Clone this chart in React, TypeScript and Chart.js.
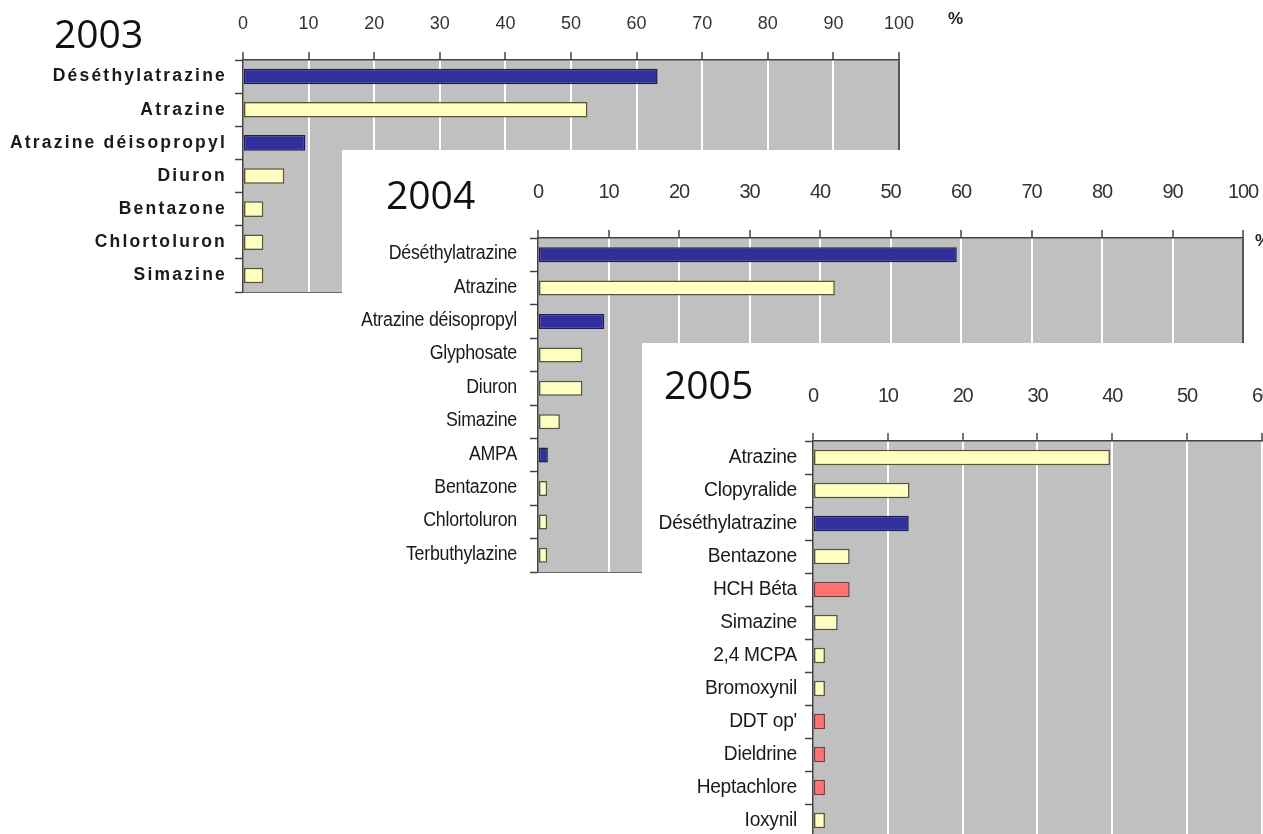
import React, { useEffect, useRef } from 'react';
import { Chart, registerables } from 'chart.js';

Chart.register(...registerables);

// ---------- data ----------
const xTickValues = [0, 10, 20, 30, 40, 50, 60, 70, 80, 90, 100];

const categories2003 = ['Déséthylatrazine', 'Atrazine', 'Atrazine déisopropyl', 'Diuron', 'Bentazone', 'Chlortoluron', 'Simazine'];
const values2003 = [63.2, 52.5, 9.5, 6.3, 3.1, 3.1, 3.1];
const groups2003 = ['metabolite', 'herbicide', 'metabolite', 'herbicide', 'herbicide', 'herbicide', 'herbicide'];

const categories2004 = ['Déséthylatrazine', 'Atrazine', 'Atrazine déisopropyl', 'Glyphosate', 'Diuron', 'Simazine', 'AMPA', 'Bentazone', 'Chlortoluron', 'Terbuthylazine'];
const values2004 = [59.4, 42.1, 9.4, 6.3, 6.3, 3.1, 1.4, 1.3, 1.3, 1.3];
const groups2004 = ['metabolite', 'herbicide', 'metabolite', 'herbicide', 'herbicide', 'herbicide', 'metabolite', 'herbicide', 'herbicide', 'herbicide'];

const categories2005 = ['Atrazine', 'Clopyralide', 'Déséthylatrazine', 'Bentazone', 'HCH Béta', 'Simazine', '2,4 MCPA', 'Bromoxynil', "DDT op'", 'Dieldrine', 'Heptachlore', 'Ioxynil'];
const values2005 = [39.7, 12.9, 12.8, 4.9, 4.9, 3.3, 1.6, 1.6, 1.6, 1.6, 1.6, 1.6];
const groups2005 = ['herbicide', 'herbicide', 'metabolite', 'herbicide', 'organochlorine', 'herbicide', 'herbicide', 'herbicide', 'organochlorine', 'organochlorine', 'organochlorine', 'herbicide'];

const years = ['2003', '2004', '2005'];

// ---------- styles ----------
const groupFill: Record<string, string> = {
  metabolite: '#30309C',
  herbicide: '#FFFFC2',
  organochlorine: '#FF7272',
};
const groupBorder: Record<string, string> = {
  metabolite: '#1B1B55',
  herbicide: '#55553A',
  organochlorine: '#704040',
};

const SANS = "'Liberation Sans', Arial, sans-serif";
const TITLE = "'Open Sans', 'DejaVu Sans', sans-serif";

const bgPlugin = {
  id: 'panelBg',
  beforeDraw(chart: any, _args: any, opts: any) {
    const { ctx, chartArea: a, width, height } = chart;
    ctx.save();
    if (opts && opts.white) {
      ctx.fillStyle = '#ffffff';
      ctx.fillRect(0, 0, width, height);
    }
    ctx.fillStyle = '#C0C0C0';
    ctx.fillRect(a.left, a.top, a.right - a.left, a.bottom - a.top);
    ctx.restore();
  },
  afterDraw(chart: any) {
    const { ctx, chartArea: a } = chart;
    ctx.save();
    ctx.strokeStyle = '#666';
    ctx.lineWidth = 1;
    ctx.beginPath();
    ctx.moveTo(a.left, a.bottom + 0.5);
    ctx.lineTo(a.right, a.bottom + 0.5);
    ctx.stroke();
    ctx.restore();
  },
};

interface Panel {
  left: number;
  top: number;
  width: number;
  height: number;
  area: { left: number; top: number; right: number; bottom: number };
  cats: string[];
  vals: number[];
  groups: string[];
  tickFont: any;
  tickPad: number;
  tickSpacing: number;
  labelFont: any;
  labelPad: number;
  labelSpacing: number;
  labelShift: number;
  labelSqueeze: number;
  barPct: number;
  white: boolean;
}

function BarPanel({ p }: { p: Panel }) {
  const ref = useRef<HTMLCanvasElement | null>(null);
  useEffect(() => {
    if (!ref.current) return;
    const a = p.area;
    const chart = new Chart(ref.current, {
      type: 'bar',
      data: {
        labels: p.cats,
        datasets: [
          {
            data: p.vals,
            backgroundColor: p.groups.map((g) => groupFill[g]),
            borderColor: p.groups.map((g) => groupBorder[g]),
            borderWidth: 1.5,
            borderSkipped: false,
            barPercentage: p.barPct,
            categoryPercentage: 1,
          },
        ],
      },
      options: {
        indexAxis: 'y',
        responsive: false,
        animation: false,
        events: [],
        layout: {
          autoPadding: false,
          padding: { left: 0, top: 0, right: p.width - a.right, bottom: p.height - a.bottom },
        },
        plugins: {
          legend: { display: false },
          tooltip: { enabled: false },
          panelBg: { white: p.white },
        } as any,
        scales: {
          x: {
            type: 'linear',
            position: 'top',
            min: 0,
            max: 100,
            afterBuildTicks: (s: any) => {
              s.ticks = xTickValues.map((v) => ({ value: v }));
            },
            afterFit: (s: any) => {
              s.height = a.top;
              s.paddingLeft = 0;
              s.paddingRight = 0;
              if (!s._patchedLabels) {
                const orig = s.drawLabels.bind(s);
                s.drawLabels = (ca: any) => {
                  const c = s.ctx;
                  c.save();
                  (c as any).letterSpacing = p.tickSpacing + 'px';
                  orig(ca);
                  c.restore();
                };
                s._patchedLabels = true;
              }
            },
            ticks: {
              font: p.tickFont,
              color: '#333',
              padding: p.tickPad,
              maxRotation: 0,
              autoSkip: false,
            },
            grid: {
              color: (c: any) => {
                const v = c.tick ? c.tick.value : -1;
                if (v === 0) return 'rgba(0,0,0,0)';
                if (v === 100) return '#555';
                return '#ffffff';
              },
              lineWidth: 2,
              tickColor: '#444',
              tickWidth: 1.5,
              tickLength: 8,
            },
            border: { color: '#444', width: 1.5 },
          },
          y: {
            type: 'category',
            position: 'left',
            afterFit: (s: any) => {
              s.width = a.left;
              s.paddingTop = 0;
              s.paddingBottom = 0;
              if (!s._patchedLabels) {
                const orig = s.drawLabels.bind(s);
                s.drawLabels = (ca: any) => {
                  const c = s.ctx;
                  const x0 = s.right - 8 - p.labelPad;
                  c.save();
                  (c as any).letterSpacing = p.labelSpacing + 'px';
                  c.translate(x0, p.labelShift);
                  c.scale(p.labelSqueeze, 1);
                  c.translate(-x0, 0);
                  orig(ca);
                  c.restore();
                };
                s._patchedLabels = true;
              }
            },
            ticks: {
              font: p.labelFont,
              color: '#1a1a1a',
              padding: p.labelPad,
              autoSkip: false,
            },
            grid: {
              drawOnChartArea: false,
              offset: true,
              tickLength: 8,
              tickColor: '#444',
              tickWidth: 1.5,
            },
            border: { color: '#444', width: 1.5 },
          },
        },
      } as any,
      plugins: [bgPlugin as any],
    });
    return () => chart.destroy();
  }, [p]);
  return (
    <canvas
      ref={ref}
      width={p.width}
      height={p.height}
      style={{ position: 'absolute', left: p.left, top: p.top, width: p.width, height: p.height, display: 'block' }}
    />
  );
}

const panel2003: Panel = {
  left: 0, top: 0, width: 960, height: 310,
  area: { left: 243, top: 60, right: 899, bottom: 292 },
  cats: categories2003, vals: values2003, groups: groups2003,
  tickFont: { family: SANS, size: 18 }, tickPad: 17, tickSpacing: 0,
  labelFont: { family: SANS, size: 17.5, weight: 'bold' }, labelPad: 8, labelSpacing: 2.2, labelShift: 0, labelSqueeze: 1,
  barPct: 0.47, white: false,
};

const panel2004: Panel = {
  left: 342, top: 150, width: 921, height: 684,
  area: { left: 196, top: 88, right: 901, bottom: 422 },
  cats: categories2004, vals: values2004, groups: groups2004,
  tickFont: { family: SANS, size: 20 }, tickPad: 26, tickSpacing: -1.2,
  labelFont: { family: SANS, size: 20 }, labelPad: 13, labelSpacing: -0.3, labelShift: -1, labelSqueeze: 0.89,
  barPct: 0.45, white: true,
};

const panel2005: Panel = {
  left: 642, top: 343, width: 940, height: 500,
  area: { left: 171, top: 98, right: 919, bottom: 494 },
  cats: categories2005, vals: values2005, groups: groups2005,
  tickFont: { family: SANS, size: 20 }, tickPad: 25, tickSpacing: -1.2,
  labelFont: { family: SANS, size: 20 }, labelPad: 8, labelSpacing: -0.3, labelShift: 0, labelSqueeze: 0.96,
  barPct: 0.47, white: true,
};

const titleStyle = (left: number, top: number): React.CSSProperties => ({
  position: 'absolute', left, top, fontFamily: TITLE, fontSize: 39, lineHeight: '39px', color: '#111', whiteSpace: 'nowrap',
});
const pctStyle = (left: number, top: number): React.CSSProperties => ({
  position: 'absolute', left, top, fontFamily: SANS, fontSize: 17, fontWeight: 'bold', lineHeight: '18px', color: '#222',
});

export default function App() {
  return (
    <div style={{ position: 'absolute', left: 0, top: 0, width: 1263, height: 834, overflow: 'hidden', background: '#fff' }}>
      <BarPanel p={panel2003} />
      <div style={titleStyle(54, 13)}>{years[0]}</div>
      <div style={pctStyle(948, 10)}>%</div>
      <BarPanel p={panel2004} />
      <div style={titleStyle(386, 174)}>{years[1]}</div>
      <div style={pctStyle(1255, 232)}>%</div>
      <BarPanel p={panel2005} />
      <div style={titleStyle(664, 364)}>{years[2]}</div>
    </div>
  );
}
